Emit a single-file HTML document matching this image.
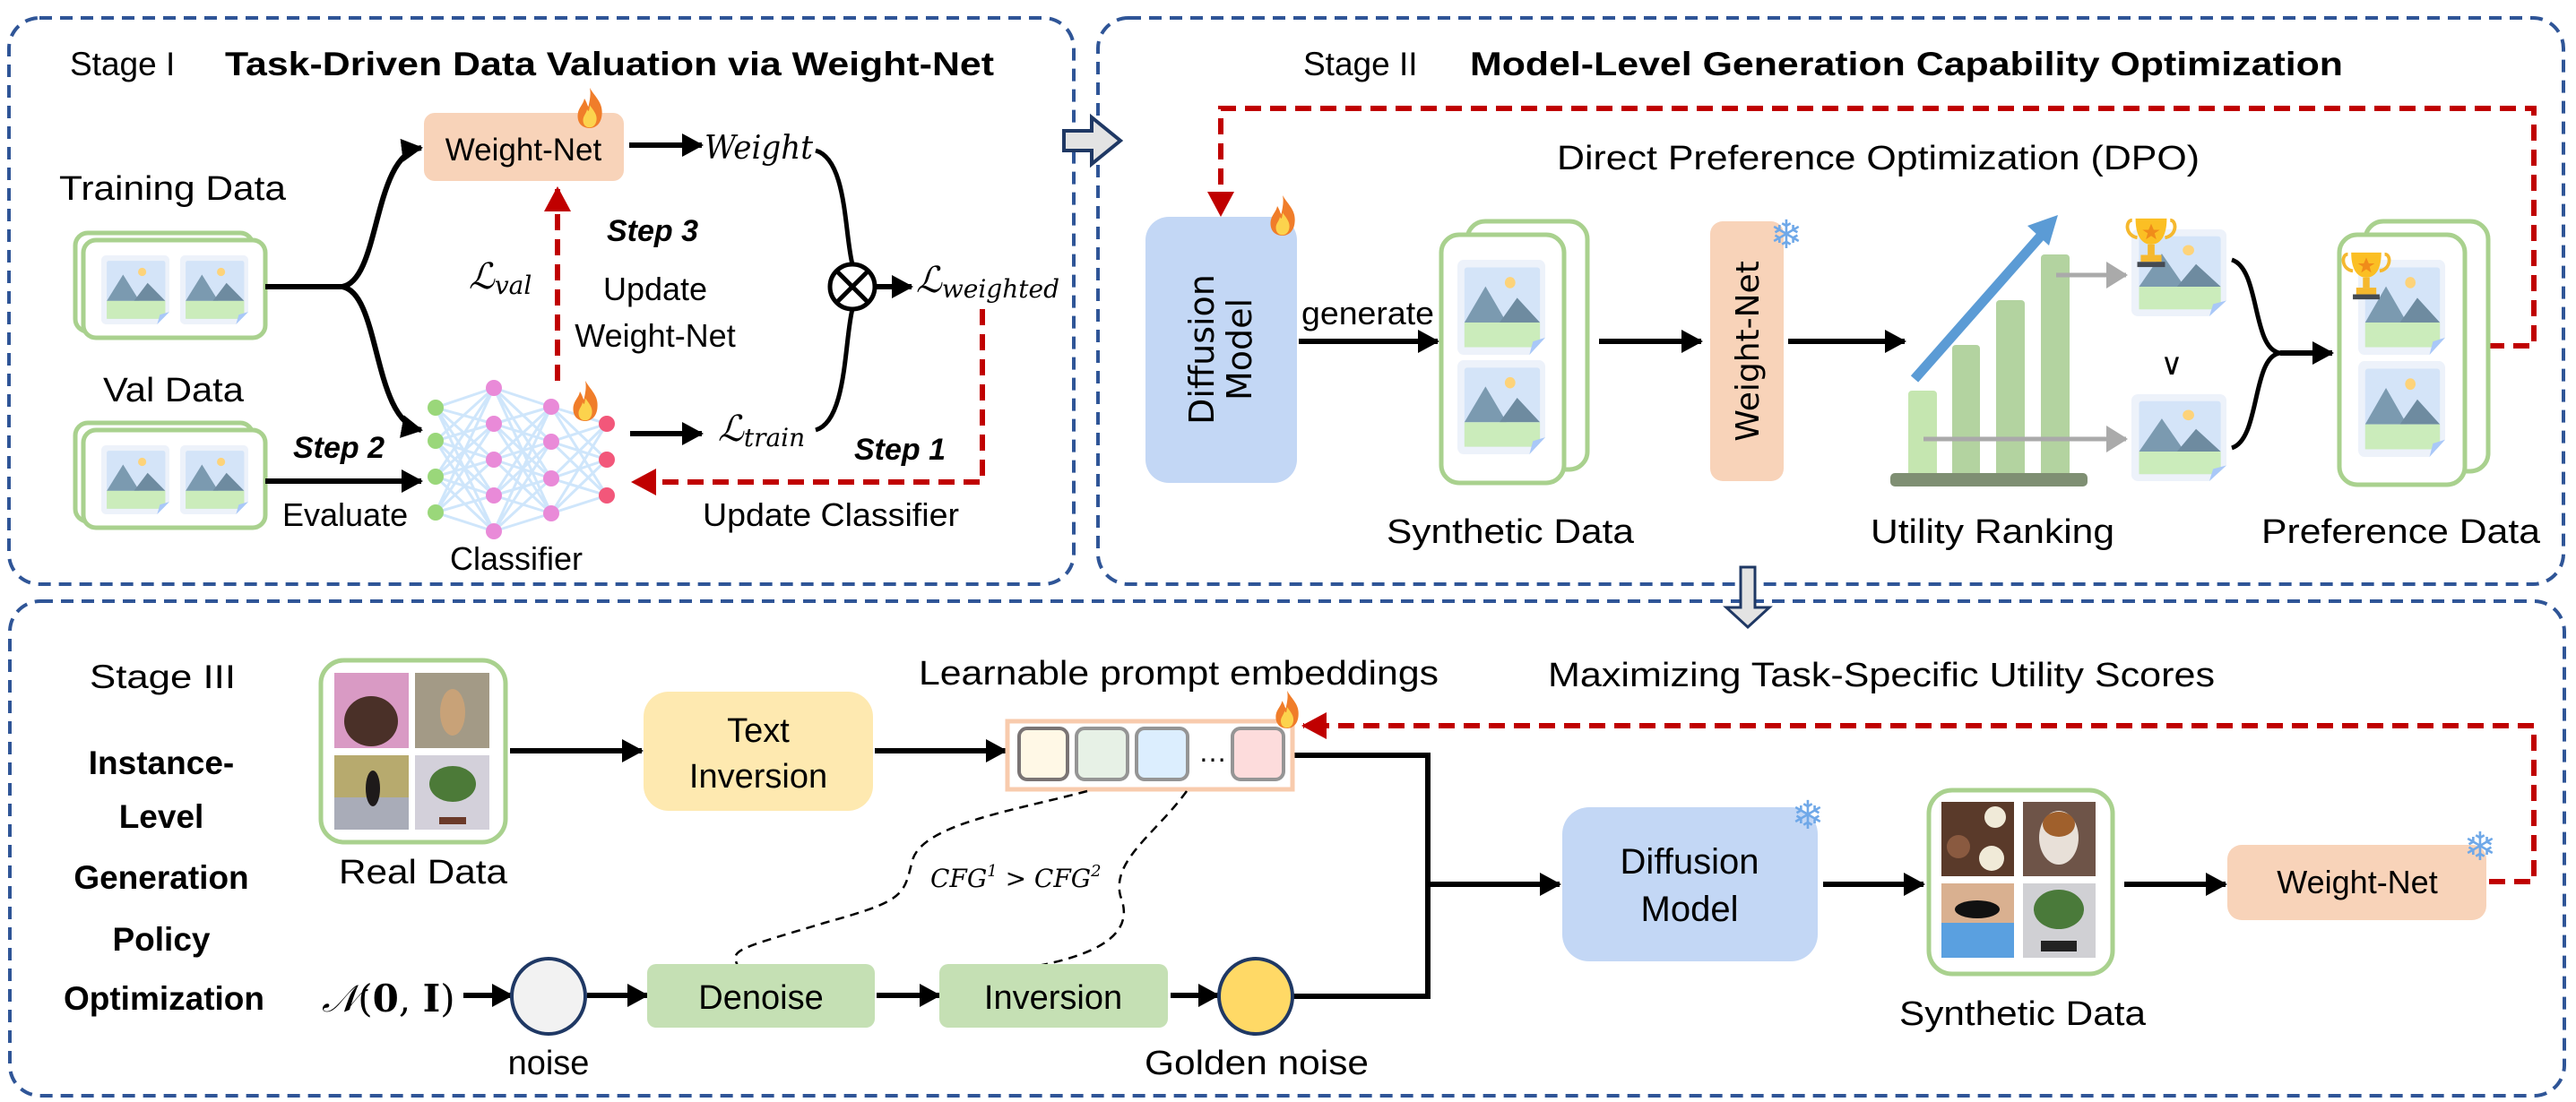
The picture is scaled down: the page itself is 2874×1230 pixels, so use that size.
<!DOCTYPE html>
<html><head><meta charset="utf-8"><style>
html,body{margin:0;padding:0;background:#fff;}
svg{display:block;}
text{font-family:"Liberation Sans",Arial,sans-serif;fill:#000;}
.it{font-family:"DejaVu Serif","Liberation Serif",serif;font-style:italic;}
</style></head><body>
<svg width="2874" height="1230" viewBox="0 0 2874 1230" xmlns="http://www.w3.org/2000/svg">
<defs>
<marker id="ah" markerUnits="userSpaceOnUse" markerWidth="26" markerHeight="26" refX="22" refY="13" orient="auto"><path d="M0,0 L24,13 L0,26 Z" fill="#000"/></marker>
<marker id="ahr" markerUnits="userSpaceOnUse" markerWidth="30" markerHeight="30" refX="26" refY="15" orient="auto"><path d="M0,0 L28,15 L0,30 Z" fill="#c00000"/></marker>
<marker id="ahg" markerUnits="userSpaceOnUse" markerWidth="26" markerHeight="30" refX="22" refY="15" orient="auto"><path d="M0,0 L24,15 L0,30 Z" fill="#aaaaaa"/></marker>
<symbol id="pic" viewBox="0 0 100 100" preserveAspectRatio="none">
<rect x="0" y="0" width="100" height="100" rx="7" fill="#edf2fa"/>
<rect x="8" y="8" width="86" height="84" rx="3" fill="#d4e4f8"/>
<circle cx="60" cy="24" r="6" fill="#fdd37a"/>
<polygon points="8,66 32,28 56,66" fill="#7b9ab0"/>
<polygon points="48,66 68,40 94,66" fill="#6e8ba0"/>
<rect x="8" y="66" width="86" height="26" fill="#cbecbb"/>
<polygon points="82,100 100,82 100,100" fill="#fff"/>
<polygon points="82,100 100,82 86,86" fill="#a9c8f8"/>
</symbol>
<symbol id="flame" viewBox="0 0 40 60">
<path d="M20,0 C28,14 40,22 38,40 C37,54 28,60 20,60 C10,60 2,54 2,42 C2,30 10,26 12,16 C16,22 16,26 18,28 C20,18 22,10 20,0 Z" fill="#f07d2a"/>
<path d="M20,26 C26,34 31,40 30,48 C29,56 24,59 20,59 C14,59 10,55 10,48 C10,42 15,38 16,32 C18,36 19,36 20,26 Z" fill="#fcd34d"/>
</symbol>
<symbol id="troph" viewBox="0 0 60 60">
<path d="M8,4 C0,4 0,22 14,24" fill="none" stroke="#f5b82e" stroke-width="4"/>
<path d="M52,4 C60,4 60,22 46,24" fill="none" stroke="#f5b82e" stroke-width="4"/>
<path d="M12,2 H48 C48,26 38,32 30,32 C22,32 12,26 12,2 Z" fill="#fbbf24"/>
<rect x="26" y="32" width="8" height="12" fill="#f5b82e"/>
<rect x="18" y="44" width="24" height="8" fill="#f5b82e"/>
<rect x="14" y="52" width="32" height="6" fill="#444a52"/>
<polygon points="30,8 33,15 40,15 34,19 36,26 30,22 24,26 26,19 20,15 27,15" fill="#f08c1a"/>
</symbol>
</defs>

<g fill="none" stroke="#2f5597" stroke-width="4" stroke-dasharray="14 9">
<rect x="10" y="20" width="1188" height="632" rx="34"/>
<rect x="1225" y="20" width="1635" height="632" rx="34"/>
<rect x="11" y="671" width="2850" height="552" rx="34"/>
</g>

<!-- ===== Stage I ===== -->
<text x="78" y="84" font-size="37">Stage I</text>
<text x="251" y="84" font-size="37" font-weight="bold" textLength="858" lengthAdjust="spacingAndGlyphs">Task-Driven Data Valuation via Weight-Net</text>

<text x="66" y="223" font-size="38" textLength="253" lengthAdjust="spacingAndGlyphs">Training Data</text>
<g fill="#fff" stroke="#a9d18e" stroke-width="5">
<rect x="84" y="260" width="198" height="110" rx="14"/>
<rect x="93" y="268" width="203" height="109" rx="14"/>
</g>
<use href="#pic" x="113" y="285" width="76" height="77"/>
<use href="#pic" x="201" y="285" width="76" height="77"/>

<text x="115" y="448" font-size="38" textLength="157" lengthAdjust="spacingAndGlyphs">Val Data</text>
<g fill="#fff" stroke="#a9d18e" stroke-width="5">
<rect x="84" y="472" width="198" height="110" rx="14"/>
<rect x="93" y="480" width="203" height="109" rx="14"/>
</g>
<use href="#pic" x="113" y="497" width="76" height="77"/>
<use href="#pic" x="201" y="497" width="76" height="77"/>

<g fill="none" stroke="#000" stroke-width="6">
<path d="M296,320 L382,320"/>
<path d="M382,320 C425,312 415,172 470,165" marker-end="url(#ah)"/>
<path d="M382,320 C425,328 415,470 470,480" marker-end="url(#ah)"/>
<path d="M296,537 L470,537" marker-end="url(#ah)"/>
<path d="M702,162 L783,162" marker-end="url(#ah)"/>
<path d="M703,484 L783,484" marker-end="url(#ah)"/>
<path d="M910,168 C945,178 942,260 951,295" stroke-width="5"/>
<path d="M910,480 C945,470 942,380 951,345" stroke-width="5"/>
<path d="M978,320 L1017,320" marker-end="url(#ah)"/>
</g>

<rect x="473" y="126" width="223" height="76" rx="12" fill="#f8d3b9"/>
<text x="584" y="179" font-size="35" text-anchor="middle">Weight-Net</text>
<use href="#flame" x="643" y="98" width="30" height="45"/>
<text x="786" y="177" class="it" font-size="36" textLength="121" lengthAdjust="spacingAndGlyphs">Weight</text>

<circle cx="951" cy="320" r="25" fill="#fff" stroke="#000" stroke-width="5"/>
<path d="M933,302 L969,338 M969,302 L933,338" stroke="#000" stroke-width="5"/>
<text x="1022" y="326" class="it" font-size="40">ℒ<tspan font-size="28" dy="6">weighted</tspan></text>

<g stroke="#cfe6fb" stroke-width="3">
<path d="M486,455 L551,433 M486,455 L551,473 M486,455 L551,513 M486,455 L551,553 M486,455 L551,593
M486,492 L551,433 M486,492 L551,473 M486,492 L551,513 M486,492 L551,553 M486,492 L551,593
M486,532 L551,433 M486,532 L551,473 M486,532 L551,513 M486,532 L551,553 M486,532 L551,593
M486,572 L551,433 M486,572 L551,473 M486,572 L551,513 M486,572 L551,553 M486,572 L551,593
M551,433 L615,454 M551,433 L615,493 M551,433 L615,534 M551,433 L615,573
M551,473 L615,454 M551,473 L615,493 M551,473 L615,534 M551,473 L615,573
M551,513 L615,454 M551,513 L615,493 M551,513 L615,534 M551,513 L615,573
M551,553 L615,454 M551,553 L615,493 M551,553 L615,534 M551,553 L615,573
M551,593 L615,454 M551,593 L615,493 M551,593 L615,534 M551,593 L615,573
M615,454 L677,473 M615,454 L677,513 M615,454 L677,553
M615,493 L677,473 M615,493 L677,513 M615,493 L677,553
M615,534 L677,473 M615,534 L677,513 M615,534 L677,553
M615,573 L677,473 M615,573 L677,513 M615,573 L677,553"/>
</g>
<g fill="#9ad77a"><circle cx="486" cy="455" r="9"/><circle cx="486" cy="492" r="9"/><circle cx="486" cy="532" r="9"/><circle cx="486" cy="572" r="9"/></g>
<g fill="#e98ad8"><circle cx="551" cy="433" r="9"/><circle cx="551" cy="473" r="9"/><circle cx="551" cy="513" r="9"/><circle cx="551" cy="553" r="9"/><circle cx="551" cy="593" r="9"/>
<circle cx="615" cy="454" r="9"/><circle cx="615" cy="493" r="9"/><circle cx="615" cy="534" r="9"/><circle cx="615" cy="573" r="9"/></g>
<g fill="#f2577a"><circle cx="677" cy="473" r="9"/><circle cx="677" cy="513" r="9"/><circle cx="677" cy="553" r="9"/></g>
<use href="#flame" x="638" y="425" width="30" height="45"/>
<text x="576" y="636" font-size="36" text-anchor="middle">Classifier</text>

<text x="801" y="492" class="it" font-size="40">ℒ<tspan font-size="28" dy="6">train</tspan></text>
<text x="523" y="322" class="it" font-size="40">ℒ<tspan font-size="28" dy="6">val</tspan></text>

<g fill="none" stroke="#c00000" stroke-width="6" stroke-dasharray="18 10">
<path d="M622,425 L622,210" marker-end="url(#ahr)"/>
<path d="M1096,345 L1096,538 L706,538" marker-end="url(#ahr)"/>
</g>
<text x="677" y="269" font-size="34" font-weight="bold" font-style="italic">Step 3</text>
<text x="731" y="335" font-size="36" text-anchor="middle">Update</text>
<text x="731" y="387" font-size="36" text-anchor="middle">Weight-Net</text>
<text x="953" y="513" font-size="34" font-weight="bold" font-style="italic">Step 1</text>
<text x="784" y="587" font-size="36" textLength="286" lengthAdjust="spacingAndGlyphs">Update Classifier</text>
<text x="327" y="511" font-size="34" font-weight="bold" font-style="italic">Step 2</text>
<text x="315" y="587" font-size="36">Evaluate</text>

<path d="M1187,146 L1218,146 L1218,131 L1250,157 L1218,183 L1218,168 L1187,168 Z" fill="#e3e3e3" stroke="#1f3864" stroke-width="4"/>

<!-- ===== Stage II ===== -->
<text x="1454" y="84" font-size="37">Stage II</text>
<text x="1640" y="84" font-size="37" font-weight="bold" textLength="974" lengthAdjust="spacingAndGlyphs">Model-Level Generation Capability Optimization</text>
<g fill="none" stroke="#c00000" stroke-width="6" stroke-dasharray="18 10">
<path d="M2776,386 L2827,386 L2827,121 L1362,121 L1362,240" marker-end="url(#ahr)"/>
</g>
<text x="1737" y="189" font-size="38" textLength="717" lengthAdjust="spacingAndGlyphs">Direct Preference Optimization (DPO)</text>

<rect x="1278" y="242" width="169" height="297" rx="26" fill="#c3d7f5"/>
<g transform="translate(1362,390) rotate(-90)">
<text x="0" y="-8" font-size="38" text-anchor="middle" style="font-family:'DejaVu Sans',sans-serif">Diffusion</text>
<text x="0" y="34" font-size="38" text-anchor="middle" style="font-family:'DejaVu Sans',sans-serif">Model</text>
</g>
<use href="#flame" x="1416" y="218" width="30" height="45"/>

<text x="1452" y="362" font-size="36" textLength="148" lengthAdjust="spacingAndGlyphs">generate</text>
<g fill="none" stroke="#000" stroke-width="6">
<path d="M1449,381 L1604,381" marker-end="url(#ah)"/>
<path d="M1784,381 L1898,381" marker-end="url(#ah)"/>
<path d="M1995,381 L2125,381" marker-end="url(#ah)"/>
<path d="M2490,290 C2522,300 2512,390 2544,394 M2490,500 C2522,490 2512,398 2544,394" stroke-width="5"/>
<path d="M2544,394 L2602,394" marker-end="url(#ah)"/>
</g>

<g fill="#fff" stroke="#a9d18e" stroke-width="5">
<rect x="1637" y="247" width="134" height="277" rx="20"/>
<rect x="1608" y="262" width="137" height="277" rx="20"/>
</g>
<use href="#pic" x="1626" y="290" width="98" height="106"/>
<use href="#pic" x="1626" y="402" width="98" height="105"/>
<text x="1547" y="606" font-size="38" textLength="276" lengthAdjust="spacingAndGlyphs">Synthetic Data</text>

<rect x="1908" y="247" width="82" height="290" rx="14" fill="#f8d3b9"/>
<text transform="translate(1962,392) rotate(-90)" x="0" y="0" font-size="36" text-anchor="middle" style="font-family:'DejaVu Sans',sans-serif">Weight-Net</text>
<text x="1993" y="277" font-size="44" text-anchor="middle" style="fill:#6fa8e8;font-family:'DejaVu Sans',sans-serif">❄</text>

<rect x="2129" y="436" width="32" height="100" rx="4" fill="#c5e6b0"/>
<rect x="2178" y="385" width="31" height="151" rx="4" fill="#b3d3a0"/>
<rect x="2227" y="335" width="32" height="201" rx="4" fill="#b3d3a0"/>
<rect x="2277" y="284" width="32" height="252" rx="4" fill="#b3d3a0"/>
<rect x="2109" y="528" width="220" height="15" rx="5" fill="#7f8f73"/>
<path d="M2136,423 L2278,262" stroke="#5b9bd5" stroke-width="11"/>
<polygon points="2296,240 2262,252 2286,274" fill="#5b9bd5"/>
<g fill="none" stroke="#aaaaaa" stroke-width="5">
<path d="M2294,307 L2372,307" marker-end="url(#ahg)"/>
<path d="M2146,490 L2372,490" marker-end="url(#ahg)"/>
</g>
<use href="#pic" x="2378" y="256" width="106" height="97"/>
<use href="#pic" x="2378" y="440" width="106" height="97"/>
<use href="#troph" x="2368" y="242" width="64" height="58"/>
<text x="2423" y="418" font-size="34" text-anchor="middle">∨</text>
<text x="2087" y="606" font-size="38" textLength="272" lengthAdjust="spacingAndGlyphs">Utility Ranking</text>

<g fill="#fff" stroke="#a9d18e" stroke-width="5">
<rect x="2639" y="247" width="137" height="279" rx="20"/>
<rect x="2610" y="262" width="140" height="279" rx="20"/>
</g>
<use href="#pic" x="2631" y="290" width="97" height="106"/>
<use href="#pic" x="2631" y="403" width="97" height="107"/>
<use href="#troph" x="2612" y="278" width="56" height="60"/>
<text x="2523" y="606" font-size="38" textLength="311" lengthAdjust="spacingAndGlyphs">Preference Data</text>

<path d="M1942,633 L1958,633 L1958,678 L1974,678 L1950,700 L1926,678 L1942,678 Z" fill="#e3e3e3" stroke="#1f3864" stroke-width="3"/>

<!-- ===== Stage III ===== -->
<text x="100" y="768" font-size="37" textLength="163" lengthAdjust="spacingAndGlyphs">Stage III</text>
<g font-size="37" font-weight="bold" text-anchor="middle">
<text x="180" y="864">Instance-</text>
<text x="180" y="924">Level</text>
<text x="180" y="992">Generation</text>
<text x="180" y="1061">Policy</text>
<text x="183" y="1127">Optimization</text>
</g>

<rect x="358" y="737" width="206" height="203" rx="26" fill="#fff" stroke="#a9d18e" stroke-width="5"/>
<rect x="373" y="751" width="83" height="84" fill="#d99ac4"/>
<ellipse cx="414" cy="805" rx="30" ry="28" fill="#4a3028"/>
<rect x="463" y="751" width="83" height="84" fill="#a39a86"/>
<ellipse cx="505" cy="795" rx="14" ry="26" fill="#c8a278"/>
<rect x="373" y="843" width="83" height="83" fill="#b7aa6e"/>
<rect x="373" y="890" width="83" height="36" fill="#a9acb8"/>
<ellipse cx="416" cy="880" rx="8" ry="20" fill="#1e1a1a"/>
<rect x="463" y="843" width="83" height="83" fill="#d3d0da"/>
<ellipse cx="505" cy="875" rx="26" ry="20" fill="#4c7a38"/>
<rect x="490" y="912" width="30" height="8" fill="#6b3a2a"/>
<text x="378" y="986" font-size="38" textLength="188" lengthAdjust="spacingAndGlyphs">Real Data</text>

<rect x="718" y="772" width="256" height="133" rx="28" fill="#fee9b0"/>
<text x="846" y="828" font-size="38" text-anchor="middle">Text</text>
<text x="846" y="879" font-size="38" text-anchor="middle">Inversion</text>

<g fill="none" stroke="#000" stroke-width="6">
<path d="M569,838 L716,838" marker-end="url(#ah)"/>
<path d="M976,838 L1122,838" marker-end="url(#ah)"/>
<path d="M1444,843 L1593,843 L1593,1112 L1443,1112"/>
<path d="M1593,987 L1740,987" marker-end="url(#ah)"/>
<path d="M2034,987 L2146,987" marker-end="url(#ah)"/>
<path d="M2370,987 L2483,987" marker-end="url(#ah)"/>
<path d="M517,1111 L571,1111" marker-end="url(#ah)"/>
<path d="M655,1111 L722,1111" marker-end="url(#ah)"/>
<path d="M978,1111 L1048,1111" marker-end="url(#ah)"/>
<path d="M1306,1111 L1359,1111" marker-end="url(#ah)"/>
</g>

<text x="1025" y="764" font-size="38" textLength="580" lengthAdjust="spacingAndGlyphs">Learnable prompt embeddings</text>
<rect x="1124" y="805" width="318" height="76" fill="#fff" stroke="#f8cbad" stroke-width="5"/>
<g stroke-width="4">
<rect x="1137" y="813" width="54" height="57" rx="9" fill="#fff8e6" stroke="#7a7474"/>
<rect x="1201" y="813" width="57" height="57" rx="9" fill="#e7f1e6" stroke="#959595"/>
<rect x="1268" y="813" width="57" height="57" rx="9" fill="#dceefe" stroke="#959595"/>
<rect x="1375" y="813" width="57" height="57" rx="9" fill="#fddcdc" stroke="#959595"/>
</g>
<text x="1353" y="850" font-size="32" text-anchor="middle">…</text>
<use href="#flame" x="1422" y="771" width="28" height="42"/>

<g fill="none" stroke="#000" stroke-width="2.5" stroke-dasharray="10 7">
<path d="M1213,883 C1130,905 1030,920 1018,960 C1008,1000 1010,1005 920,1030 C820,1060 815,1060 823,1078"/>
<path d="M1324,883 C1290,930 1240,960 1250,1000 C1262,1030 1250,1060 1158,1078"/>
</g>
<text x="1038" y="990" class="it" font-size="28">CFG<tspan font-size="18" dy="-12">1</tspan><tspan dy="12"> &gt; CFG</tspan><tspan font-size="18" dy="-12">2</tspan></text>

<text x="359" y="1129" class="it" font-size="42">𝒩<tspan font-style="normal">(</tspan><tspan font-weight="bold" font-style="normal">0</tspan><tspan font-style="normal">, </tspan><tspan font-weight="bold" font-style="normal">I</tspan><tspan font-style="normal">)</tspan></text>
<ellipse cx="612" cy="1112" rx="41" ry="42" fill="#f2f2f2" stroke="#1f3864" stroke-width="4"/>
<text x="612" y="1199" font-size="38" text-anchor="middle">noise</text>

<rect x="722" y="1076" width="254" height="71" rx="10" fill="#c5e0b4"/>
<text x="849" y="1126" font-size="38" text-anchor="middle">Denoise</text>
<rect x="1048" y="1076" width="255" height="71" rx="10" fill="#c5e0b4"/>
<text x="1175" y="1126" font-size="38" text-anchor="middle">Inversion</text>
<ellipse cx="1401" cy="1112" rx="41" ry="42" fill="#ffd966" stroke="#1f3864" stroke-width="4"/>
<text x="1277" y="1199" font-size="38" textLength="250" lengthAdjust="spacingAndGlyphs">Golden noise</text>

<text x="1727" y="766" font-size="38" textLength="744" lengthAdjust="spacingAndGlyphs">Maximizing Task-Specific Utility Scores</text>
<g fill="none" stroke="#c00000" stroke-width="6" stroke-dasharray="18 10">
<path d="M2777,984 L2827,984 L2827,810 L1454,810" marker-end="url(#ahr)"/>
</g>

<rect x="1743" y="901" width="285" height="172" rx="30" fill="#c3d7f5"/>
<text x="1885" y="975" font-size="40" text-anchor="middle">Diffusion</text>
<text x="1885" y="1028" font-size="40" text-anchor="middle">Model</text>
<text x="2017" y="925" font-size="44" text-anchor="middle" style="fill:#6fa8e8;font-family:'DejaVu Sans',sans-serif">❄</text>

<rect x="2152" y="882" width="205" height="205" rx="26" fill="#fff" stroke="#a9d18e" stroke-width="5"/>
<rect x="2166" y="895" width="81" height="83" fill="#5a3a2a"/>
<circle cx="2226" cy="912" r="12" fill="#f0ead8"/><circle cx="2222" cy="958" r="14" fill="#f0ead8"/><circle cx="2185" cy="945" r="13" fill="#8a5a40"/>
<rect x="2257" y="895" width="81" height="83" fill="#6e5448"/>
<ellipse cx="2297" cy="935" rx="22" ry="30" fill="#e8e0d8"/><ellipse cx="2297" cy="920" rx="18" ry="14" fill="#a0602c"/>
<rect x="2166" y="986" width="81" height="83" fill="#d9b090"/>
<rect x="2166" y="1030" width="81" height="39" fill="#5aa0e0"/>
<ellipse cx="2206" cy="1015" rx="25" ry="10" fill="#111"/>
<rect x="2257" y="986" width="81" height="83" fill="#d0d0d4"/>
<ellipse cx="2297" cy="1015" rx="28" ry="22" fill="#4a7a3a"/>
<rect x="2277" y="1050" width="40" height="12" fill="#222"/>
<text x="2119" y="1144" font-size="38" textLength="275" lengthAdjust="spacingAndGlyphs">Synthetic Data</text>

<rect x="2485" y="943" width="289" height="84" rx="16" fill="#f8d3b9"/>
<text x="2630" y="997" font-size="36" text-anchor="middle">Weight-Net</text>
<text x="2767" y="960" font-size="44" text-anchor="middle" style="fill:#6fa8e8;font-family:'DejaVu Sans',sans-serif">❄</text>
</svg>
</body></html>
